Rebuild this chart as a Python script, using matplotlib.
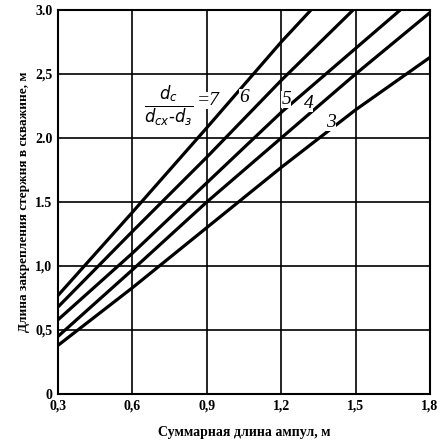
import matplotlib
matplotlib.use("Agg")
import matplotlib.pyplot as plt

x7 = [0.3, 0.6, 0.9, 1.2, 1.32]; y7 = [0.77, 1.42, 2.08, 2.75, 3.0]
x6 = [0.3, 0.6, 0.9, 1.2, 1.49]; y6 = [0.68, 1.27, 1.85, 2.45, 3.0]
x5 = [0.3, 0.6, 0.9, 1.2, 1.5, 1.68]; y5 = [0.58, 1.10, 1.65, 2.20, 2.70, 3.0]
x4 = [0.3, 0.6, 0.9, 1.2, 1.5, 1.8]; y4 = [0.45, 0.97, 1.50, 2.00, 2.50, 2.98]
x3 = [0.3, 0.6, 0.9, 1.2, 1.5, 1.8]; y3 = [0.38, 0.83, 1.30, 1.77, 2.22, 2.63]
series = [(x7, y7), (x6, y6), (x5, y5), (x4, y4), (x3, y3)]
labels = ["6", "5", "4", "3"]
label_pos = [(1.05, 2.32), (1.22, 2.30), (1.31, 2.27), (1.40, 2.12)]

fig = plt.figure(figsize=(4.46, 4.48), dpi=100)
ax = fig.add_axes([58/446, 1-394/448, 372/446, 384/448])
for xs, ys in series:
    ax.plot(xs, ys, color="black", lw=2.3, solid_capstyle="butt")
ax.set_xlim(0.3, 1.8); ax.set_ylim(0, 3.0)
ax.set_xticks([0.3, 0.6, 0.9, 1.2, 1.5, 1.8])
ax.set_xticklabels(["0,3", "0,6", "0,9", "1,2", "1,5", "1,8"])
ax.set_yticks([0, 0.5, 1.0, 1.5, 2.0, 2.5, 3.0])
ax.set_yticklabels(["0", "0,5", "1,0", "1.5", "2.0", "2,5", "3.0"])
ax.grid(True, color="black", lw=1.2)
for s in ax.spines.values():
    s.set_linewidth(1.5)
ax.tick_params(length=0, labelsize=10, pad=4)
for t in ax.get_xticklabels() + ax.get_yticklabels():
    t.set_family("Liberation Serif"); t.set_fontweight("bold")
ax.set_xlabel("Суммарная длина ампул, м", family="Liberation Serif", fontweight="bold", fontsize=10, labelpad=10)
ax.set_ylabel("Длина закрепления стержня в скважине, м", family="Liberation Serif", fontweight="bold", fontsize=9.5, labelpad=4)
ax.text(0.745, 2.25, r"$\frac{d_c}{d_{cx}\text{-}d_з}$", fontsize=17, ha="center", va="center",
        family="Liberation Serif", bbox=dict(facecolor="white", edgecolor="none", pad=0))
ax.text(0.86, 2.29, "=7", fontsize=14, family="Liberation Serif", style="italic", ha="left", va="center",
        bbox=dict(facecolor="white", edgecolor="none", pad=0))
for lab, (px, py) in zip(labels, label_pos):
    ax.text(px, py, lab, fontsize=14, family="Liberation Serif", style="italic", ha="center", va="center",
            bbox=dict(facecolor="white", edgecolor="none", pad=0))
fig.savefig("out.png", dpi=100)
